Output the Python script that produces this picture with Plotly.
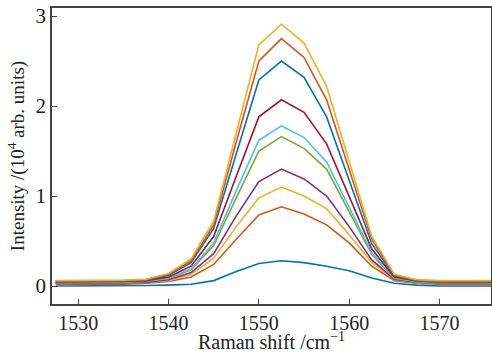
import plotly.graph_objects as go

raman_shift = [1527.5, 1530, 1532.5, 1535, 1537.5, 1540, 1542.5, 1545, 1547.5, 1550,
               1552.5, 1555, 1557.5, 1560, 1562.5, 1565, 1567.5, 1570, 1572.5, 1575, 1577.5]

s1 = [0.0, 0.0, 0.0, 0.0, 0.005, 0.01, 0.02, 0.06, 0.16, 0.25, 0.28, 0.26, 0.22, 0.17, 0.09, 0.03, 0.01, 0.0, 0.0, 0.0, 0.0]
s2 = [0.02, 0.02, 0.02, 0.02, 0.03, 0.05, 0.10, 0.24, 0.52, 0.79, 0.88, 0.80, 0.68, 0.48, 0.22, 0.06, 0.03, 0.02, 0.02, 0.02, 0.02]
s3 = [0.03, 0.03, 0.03, 0.03, 0.04, 0.06, 0.13, 0.31, 0.66, 0.98, 1.10, 1.00, 0.86, 0.57, 0.26, 0.07, 0.035, 0.03, 0.03, 0.03, 0.03]
s4 = [0.03, 0.03, 0.03, 0.035, 0.04, 0.07, 0.15, 0.36, 0.78, 1.16, 1.30, 1.19, 1.00, 0.66, 0.29, 0.075, 0.04, 0.03, 0.03, 0.03, 0.03]
s5 = [0.035, 0.035, 0.035, 0.04, 0.05, 0.085, 0.18, 0.45, 0.98, 1.50, 1.66, 1.53, 1.30, 0.83, 0.35, 0.085, 0.045, 0.035, 0.035, 0.035, 0.035]
s6 = [0.04, 0.04, 0.04, 0.045, 0.055, 0.09, 0.19, 0.48, 1.06, 1.62, 1.78, 1.65, 1.38, 0.88, 0.37, 0.09, 0.05, 0.04, 0.04, 0.04, 0.04]
s7 = [0.045, 0.045, 0.045, 0.05, 0.06, 0.10, 0.22, 0.55, 1.22, 1.88, 2.07, 1.93, 1.58, 1.00, 0.41, 0.10, 0.055, 0.045, 0.045, 0.045, 0.045]
s8 = [0.05, 0.05, 0.05, 0.055, 0.065, 0.12, 0.26, 0.64, 1.47, 2.29, 2.50, 2.32, 1.88, 1.18, 0.47, 0.11, 0.06, 0.05, 0.05, 0.05, 0.05]
s9 = [0.055, 0.055, 0.055, 0.06, 0.07, 0.13, 0.28, 0.68, 1.60, 2.50, 2.75, 2.54, 2.07, 1.30, 0.52, 0.12, 0.065, 0.055, 0.055, 0.055, 0.055]
s10 = [0.06, 0.06, 0.06, 0.065, 0.075, 0.14, 0.30, 0.72, 1.70, 2.68, 2.91, 2.70, 2.22, 1.38, 0.55, 0.13, 0.07, 0.06, 0.06, 0.06, 0.06]

series = [s1, s2, s3, s4, s5, s6, s7, s8, s9, s10]
colors = ["#0072BD", "#D95319", "#EDB120", "#7E2F8E", "#77AC30",
          "#4DBEEE", "#A2142F", "#0072BD", "#D95319", "#EDB120"]

x_ticks = [1530, 1540, 1550, 1560, 1570]
y_ticks = [0, 1, 2, 3]

fig = go.Figure()
for ys, c in zip(series, colors):
    fig.add_trace(go.Scatter(x=raman_shift, y=ys, mode="lines",
                             line=dict(color=c, width=1.6), showlegend=False))

font = "Liberation Serif"
fig.update_layout(
    width=492, height=353,
    margin=dict(l=52, r=1, t=8, b=49),
    paper_bgcolor="white", plot_bgcolor="white",
    font=dict(family=font, size=21, color="#222"),
)
fig.update_xaxes(
    range=[1527.1, 1575.7], tickvals=x_ticks, ticks="inside", ticklen=5,
    tickfont=dict(family=font, size=20, color="#222"),
    showgrid=False, zeroline=False, showline=True, mirror=True, automargin=False,
    linecolor="#444", linewidth=1.5, tickcolor="#444",
    title=dict(text="Raman shift /cm<sup>−1</sup>", font=dict(family=font, size=20, color="#222"), standoff=3),
)
fig.update_yaxes(
    range=[-0.2, 3.09], tickvals=y_ticks, ticks="inside", ticklen=5,
    tickfont=dict(family=font, size=21, color="#222"),
    showgrid=False, zeroline=False, showline=True, mirror=True, automargin=False,
    linecolor="#444", linewidth=1.5, tickcolor="#444",
    title=dict(text="Intensity /(10<sup>4</sup> arb. units)", font=dict(family=font, size=19, color="#222"), standoff=6),
)
fig.write_html("out.html", config={"displayModeBar": False},
               post_script="document.body.style.margin='0';")
